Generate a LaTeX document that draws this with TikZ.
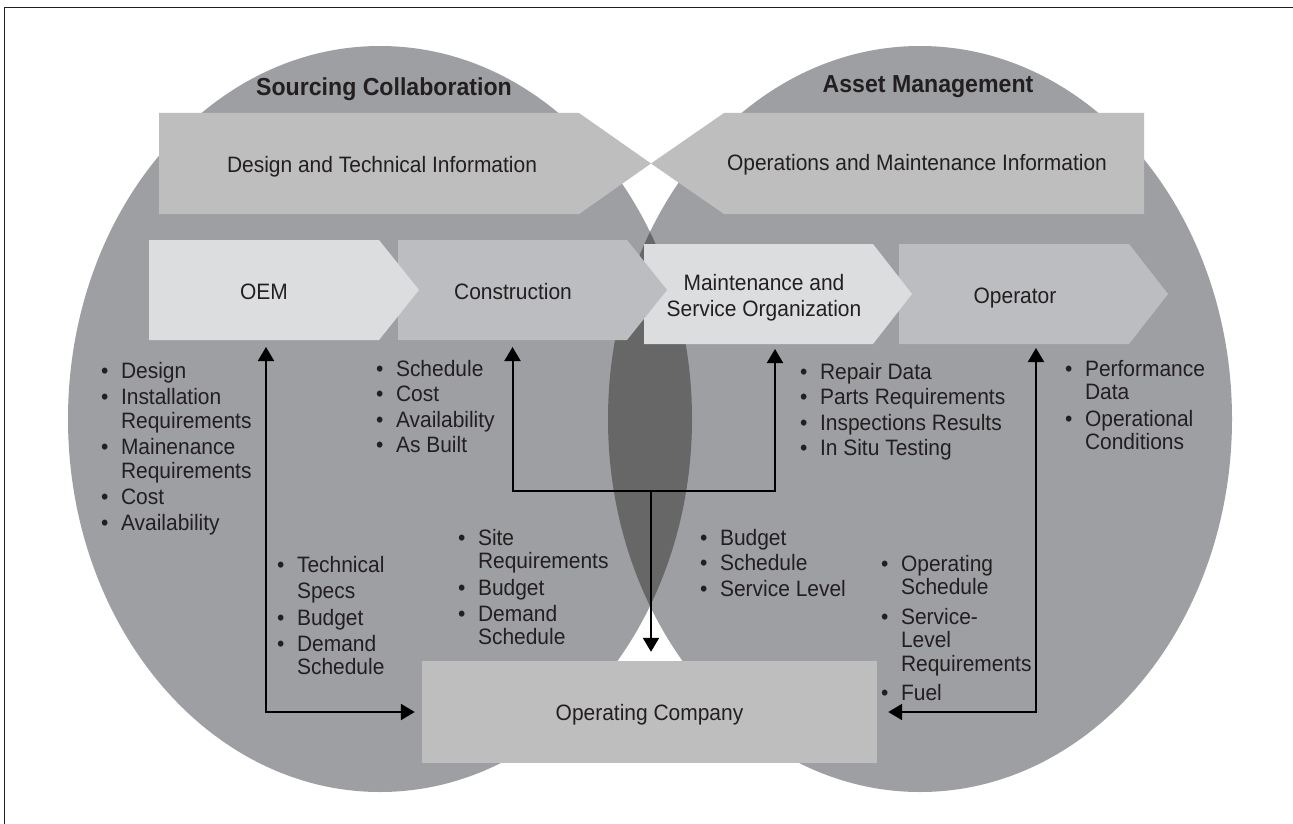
\documentclass[tikz,border=0pt]{standalone}
\usepackage{fontspec}
\setmainfont{Liberation Sans}[FakeStretch=0.94]
\usetikzlibrary{arrows.meta,calc}
\definecolor{ellgray}{HTML}{9E9FA3}
\definecolor{lensgray}{HTML}{676767}
\definecolor{bannergray}{HTML}{BEBEBE}
\definecolor{chevlight}{HTML}{DCDDDF}
\definecolor{chevmid}{HTML}{BCBDC0}
\definecolor{txt}{HTML}{231F20}
\begin{document}
\begin{tikzpicture}[x=1pt,y=-1pt,
  body/.style={inner sep=0pt, outer sep=0pt, minimum height=100pt},
  lbl/.style={inner sep=0pt, text=txt, font=\fontsize{22.3}{26}\selectfont},
  ttl/.style={inner sep=0pt, anchor=base, text=txt, font=\fontsize{24.6}{26}\selectfont\bfseries},
  lst/.style={inner sep=0pt, anchor=base west, text=txt, font=\fontsize{22.3}{23.5}\selectfont},
  conn/.style={line width=2pt, -{Triangle[length=14pt,width=16pt]}},
  biconn/.style={line width=2pt, {Triangle[length=14pt,width=16pt]}-{Triangle[length=14pt,width=16pt]}},
]
\useasboundingbox (0,0) rectangle (1293,824);
\fill[white] (0,0) rectangle (1293,824);
% frame
\draw[line width=1.5pt, txt] (4.7,824) -- (4.7,7.3) -- (1293,7.3);

% circles
\fill[ellgray] (380,419) ellipse [x radius=312, y radius=373];
\fill[ellgray] (920,419) ellipse [x radius=312, y radius=373];
\begin{scope}
  \clip (380,419) ellipse [x radius=312, y radius=373];
  \fill[lensgray] (920,419) ellipse [x radius=312, y radius=373];
\end{scope}

% titles
\node[ttl] (t1) at (384,95.5) {Sourcing Collaboration};
\node[ttl] (t2) at (928,92.5) {Asset Management};

% banners
\node[body, minimum width=420pt, minimum height=101pt] (dti) at (369,163.5) {};
\node[body, minimum width=420pt, minimum height=101pt] (omi) at (934,163.5) {};
\coordinate (meet) at (651,163.5);
\fill[bannergray] (dti.north west) -- (dti.north east) -- (meet) -- (dti.south east) -- (dti.south west) -- cycle;
\fill[bannergray] (omi.north east) -- (omi.north west) -- (meet) -- (omi.south west) -- (omi.south east) -- cycle;
\node[lbl, anchor=base] (dtil) at (382,172) {Design and Technical Information};
\node[lbl, anchor=base] (omil) at (917,171) {Operations and Maintenance Information};

% chevron bodies
\node[body, minimum width=230pt] (oem) at (264,290) {};
\node[body, minimum width=229pt] (cons) at (512.5,290) {};
\node[body, minimum width=229pt] (maint) at (758.5,294) {};
\node[body, minimum width=230pt] (oper) at (1014,294) {};
\fill[chevmid] (oper.north west) -- (oper.north east) -- ([xshift=39pt]oper.east) -- (oper.south east) -- (oper.south west) -- cycle;
\fill[chevlight] (maint.north west) -- (maint.north east) -- ([xshift=39pt]maint.east) -- (maint.south east) -- (maint.south west) -- cycle;
\fill[chevmid] (cons.north west) -- (cons.north east) -- ([xshift=40pt]cons.east) -- (cons.south east) -- (cons.south west) -- cycle;
\fill[chevlight] (oem.north west) -- (oem.north east) -- ([xshift=40pt]oem.east) -- (oem.south east) -- (oem.south west) -- cycle;
\node[lbl, anchor=base] (oeml) at (264,299) {OEM};
\node[lbl, anchor=base] (consl) at (513,299) {Construction};
\node[lbl, align=center] (maintl) at (764,297.5) {Maintenance and\\Service Organization};
\node[lbl, anchor=base] (operl) at (1015,303) {Operator};

% operating company
\node[lbl, fill=bannergray, minimum width=455pt, minimum height=102pt, text height=16pt, text depth=0pt] (opco) at (649.5,712) {Operating Company};

% connectors
\coordinate (junc) at (651,491);
\draw[biconn, shorten <=7pt, shorten >=7pt] ([xshift=2pt]oem.south) |- (opco.west);
\draw[biconn, shorten <=7pt, shorten >=5pt] (cons.south) |- (junc) -| ([xshift=16.5pt]maint.south);
\draw[conn, shorten >=9pt] (junc) -- (junc |- opco.north);
\draw[biconn, shorten <=4pt, shorten >=11pt] ([xshift=22pt]oper.south) |- (opco.east);

% lists
\node[lst] (l1) at (101,378.5) {\begin{tabular}[t]{@{}l@{\hspace{12.5pt}}l@{}}
• & Design\\[2.5pt]
• & Installation\\
  & Requirements\\[3pt]
• & Mainenance\\
  & Requirements\\[3pt]
• & Cost\\[2pt]
• & Availability
\end{tabular}};
\node[lst] (l2) at (376,376) {\begin{tabular}[t]{@{}l@{\hspace{12.5pt}}l@{}}
• & Schedule\\[2pt]
• & Cost\\[2pt]
• & Availability\\[2pt]
• & As Built
\end{tabular}};
\node[lst] (l3) at (800,379) {\begin{tabular}[t]{@{}l@{\hspace{12.5pt}}l@{}}
• & Repair Data\\[2pt]
• & Parts Requirements\\[2pt]
• & Inspections Results\\[2pt]
• & In Situ Testing
\end{tabular}};
\node[lst] (l4) at (1065,376) {\begin{tabular}[t]{@{}l@{\hspace{12.5pt}}l@{}}
• & Performance\\
  & Data\\[3pt]
• & Operational\\
  & Conditions
\end{tabular}};
\node[lst] (l5) at (277,572) {\begin{tabular}[t]{@{}l@{\hspace{12.5pt}}l@{}}
• & Technical\\[3pt]
  & Specs\\[3.5pt]
• & Budget\\[2pt]
• & Demand\\
  & Schedule
\end{tabular}};
\node[lst] (l6) at (458,545) {\begin{tabular}[t]{@{}l@{\hspace{12.5pt}}l@{}}
• & Site\\
  & Requirements\\[3.5pt]
• & Budget\\[2pt]
• & Demand\\
  & Schedule
\end{tabular}};
\node[lst] (l7) at (700,545) {\begin{tabular}[t]{@{}l@{\hspace{12.5pt}}l@{}}
• & Budget\\[2pt]
• & Schedule\\[2pt]
• & Service Level
\end{tabular}};
\node[lst] (l8) at (881,571) {\begin{tabular}[t]{@{}l@{\hspace{12.5pt}}l@{}}
• & Operating\\
  & Schedule\\[6pt]
• & Service-\\
  & Level\\
  & Requirements\\[6pt]
• & Fuel
\end{tabular}};
\end{tikzpicture}
\end{document}
